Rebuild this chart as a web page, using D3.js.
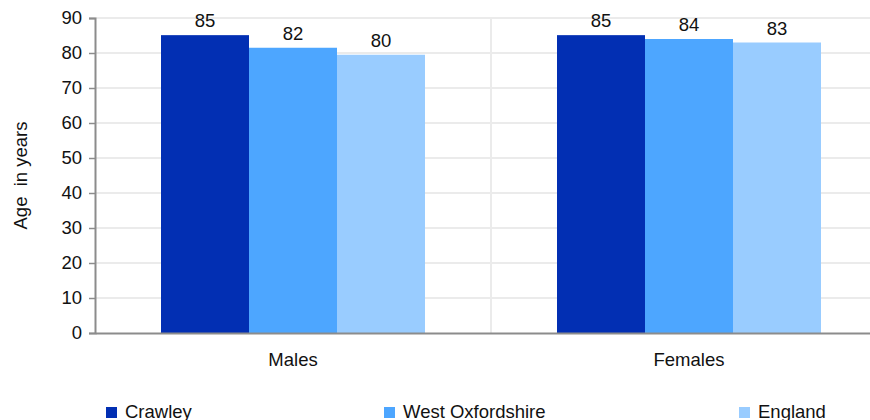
<!DOCTYPE html>
<html><head><meta charset="utf-8">
<script src="https://cdn.jsdelivr.net/npm/d3@7"></script>
<style>
html,body{margin:0;padding:0;background:#fff;}
svg{display:block;font-family:"Liberation Sans",Arial,sans-serif;}
</style></head>
<body>
<svg id="chart" width="870" height="420"></svg>
<script>
const categories = ["Males", "Females"];
const seriesNames = ["Crawley", "West Oxfordshire", "England"];
const crawley = [85.1, 85.1];
const westOxfordshire = [81.5, 84.0];
const england = [79.5, 83.0];
const labelsCrawley = ["85", "85"];
const labelsWestOx = ["82", "84"];
const labelsEngland = ["80", "83"];
const yTicks = [0, 10, 20, 30, 40, 50, 60, 70, 80, 90];
const colors = ["#022FB3", "#4DA6FF", "#99CCFF"];

const seriesVals = [crawley, westOxfordshire, england];
const seriesLabels = [labelsCrawley, labelsWestOx, labelsEngland];
const FS = 18.5;

const svg = d3.select("#chart");
const mLeft = 95, mRight = 887, mTop = 18, mBottom = 333;

const y = d3.scaleLinear().domain([0, 90]).range([mBottom, mTop]);
const x0 = d3.scaleBand().domain(categories).range([mLeft, mRight]).paddingInner(0).paddingOuter(0);
const x1 = d3.scaleBand().domain(seriesNames).range([66, x0.bandwidth() - 66]).padding(0);

// gridlines
svg.append("g").selectAll("line").data(yTicks.filter(d => d > 0)).join("line")
  .attr("x1", mLeft).attr("x2", 870)
  .attr("y1", d => y(d)).attr("y2", d => y(d))
  .attr("stroke", "#ebebeb").attr("stroke-width", 2);
// vertical divider between categories
svg.append("line")
  .attr("x1", x0("Females")).attr("x2", x0("Females"))
  .attr("y1", mTop).attr("y2", mBottom)
  .attr("stroke", "#ebebeb").attr("stroke-width", 2);

// bars
const groups = svg.append("g").selectAll("g").data(categories).join("g")
  .attr("transform", c => `translate(${x0(c)},0)`);
seriesNames.forEach((s, si) => {
  groups.append("rect")
    .attr("x", x1(s)).attr("width", x1.bandwidth())
    .attr("y", (c, ci) => y(seriesVals[si][ci]))
    .attr("height", (c, ci) => mBottom - y(seriesVals[si][ci]))
    .attr("fill", colors[si]);
  groups.append("text")
    .attr("x", x1(s) + x1.bandwidth() / 2)
    .attr("y", (c, ci) => y(seriesVals[si][ci]) - 8)
    .attr("text-anchor", "middle")
    .attr("font-size", FS).attr("fill", "#111")
    .text((c, ci) => seriesLabels[si][ci]);
});

// y axis
const yAxis = svg.append("g").attr("transform", `translate(${mLeft},0)`)
  .call(d3.axisLeft(y).tickValues(yTicks).tickSize(6).tickPadding(7));
yAxis.select(".domain").attr("stroke", "#8c8c8c").attr("stroke-width", 2);
yAxis.selectAll(".tick line").attr("stroke", "#8c8c8c").attr("stroke-width", 1.5);
yAxis.selectAll(".tick text").attr("font-size", FS).attr("fill", "#111")
  .attr("font-family", "Liberation Sans, Arial, sans-serif");

// x axis
const xAxis = svg.append("g").attr("transform", `translate(0,${mBottom})`)
  .call(d3.axisBottom(x0).tickSize(0).tickPadding(20));
xAxis.select(".domain").attr("stroke", "#8c8c8c").attr("stroke-width", 2);
xAxis.selectAll(".tick text").attr("font-size", FS).attr("fill", "#111")
  .attr("font-family", "Liberation Sans, Arial, sans-serif");

// y label
svg.append("text")
  .attr("transform", `translate(27,${(mTop + mBottom) / 2}) rotate(-90)`)
  .attr("text-anchor", "middle")
  .attr("font-size", FS).attr("fill", "#111")
  .attr("xml:space", "preserve")
  .style("white-space", "pre")
  .text("Age  in years");

// legend
const legendX = [106, 384, 739];
const lg = svg.append("g").selectAll("g").data(seriesNames).join("g")
  .attr("transform", (d, i) => `translate(${legendX[i]},407)`);
lg.append("rect").attr("width", 11).attr("height", 11).attr("fill", (d, i) => colors[i]);
lg.append("text").attr("x", 19).attr("y", 11)
  .attr("font-size", FS).attr("fill", "#111").text(d => d);
</script>
</body></html>
